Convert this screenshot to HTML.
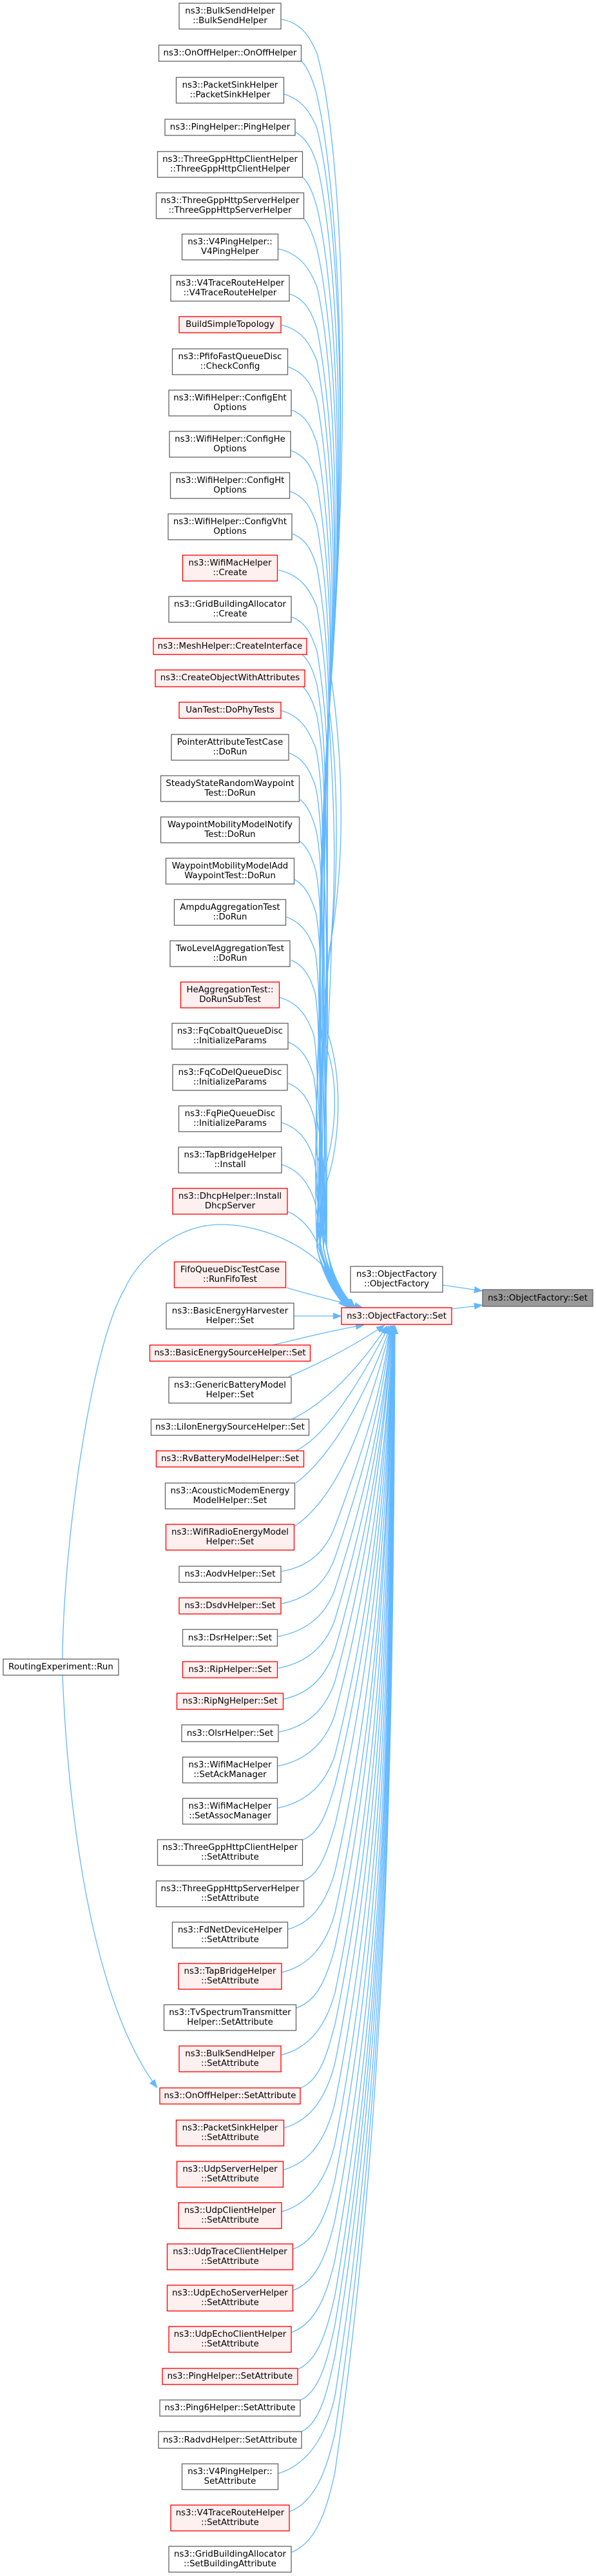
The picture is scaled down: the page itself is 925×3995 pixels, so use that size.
<!DOCTYPE html>
<html>
<head>
<meta charset="utf-8">
<title>ns3::ObjectFactory::Set</title>
<style>
html,body{margin:0;padding:0;background:#fff;}
svg{display:block;}
text{font-family:"DejaVu Sans","Liberation Sans",sans-serif;font-size:13.33px;fill:#000;text-anchor:middle;}
.n{fill:#fff;stroke:#666;stroke-width:1.33;}
.r{fill:#FFF0F0;stroke:#f00;stroke-width:1.33;}
.g{fill:#999;stroke:#666;stroke-width:1.33;}
.e path{fill:none;stroke:#63B8FF;stroke-width:1.33;marker-end:url(#a);}
</style>
</head>
<body>
<svg width="925" height="3995" viewBox="0 0 925 3995" xmlns="http://www.w3.org/2000/svg">
<defs>
<marker id="a" markerUnits="userSpaceOnUse" markerWidth="14" markerHeight="11" refX="13" refY="5" orient="auto">
<path d="M0,0 L13,5 L0,10 z" fill="#63B8FF" stroke="#63B8FF" stroke-width="0.5"/>
</marker>
</defs>
<rect width="925" height="3995" fill="#fff"/>
<g class="e">
<path d="M437,30 C470,36 482,60 492,83 C525,200 550,550 514,1050 C535,1200 535,1350 510,1480 C497,1600 499,1800 497,1935 C505,1975 519,2005 541,2027"/>
<path d="M468,95 C478,105 484,122 490,140 C520,260 547,600 512,1080 C504,1250 510,1450 508,1600 C535,1680 525,1780 508,1830 C504,1860 502,1900 502,1935 C510,1975 522,2005 544,2027"/>
<path d="M441,146 C470,155 482,175 492,199 C522,320 545,650 511,1100 C525,1200 525,1350 515,1450 C511,1600 497,1800 507,1935 C515,1975 525,2005 547,2027"/>
<path d="M459,205 C475,215 484,230 492,255 C520,370 542,690 510,1100 C518,1250 524,1350 512,1480 C494,1600 508,1800 492,1935 C500,1975 528,2005 550,2027"/>
<path d="M470,275 C480,285 486,300 492,322 C518,430 540,730 509,1120 C501,1300 495,1450 505,1620 C528,1680 520,1760 505,1810 C500,1850 497,1900 497,1935 C505,1975 517,2005 539,2027"/>
<path d="M472,339 C480,349 486,365 492,386 C516,490 538,770 509,1120 C508,1400 506,1700 502,1935 C510,1975 520,2005 542,2027"/>
<path d="M432,386 C468,394 482,420 492,445 C514,540 534,800 508,1140 C491,1400 493,1700 507,1935 C515,1975 523,2005 545,2027"/>
<path d="M450,456 C475,465 484,485 492,510 C512,610 532,840 508,1140 C498,1400 504,1700 492,1935 C500,1975 526,2005 548,2027"/>
<path d="M437,504 C470,512 482,535 492,560 C510,660 530,880 507,1160 C505,1400 491,1700 497,1935 C505,1975 529,2005 551,2027"/>
<path d="M447,569 C474,578 484,598 492,622 C508,710 527,920 507,1160 C512,1400 502,1700 502,1935 C510,1975 518,2005 540,2027"/>
<path d="M453,636 C476,645 484,664 492,688 C507,770 524,960 506,1180 C495,1450 489,1700 507,1935 C515,1975 521,2005 543,2027"/>
<path d="M452,699 C476,708 484,726 492,750 C506,830 522,1000 506,1180 C502,1450 500,1700 492,1935 C500,1975 524,2005 546,2027"/>
<path d="M450,762 C475,771 484,791 492,815 C505,890 520,1040 505,1200 C509,1450 511,1700 497,1935 C505,1975 527,2005 549,2027"/>
<path d="M454,828 C477,837 484,856 492,880 C504,950 518,1080 505,1220 C492,1450 498,1700 502,1935 C510,1975 516,2005 538,2027"/>
<path d="M432,884 C468,892 482,916 492,942 C503,1010 516,1120 504,1240 C499,1450 509,1700 507,1935 C515,1975 519,2005 541,2027"/>
<path d="M453,957 C476,966 484,986 492,1010 C502,1070 514,1170 503,1260 C506,1500 496,1700 492,1935 C500,1975 522,2005 544,2027"/>
<path d="M469,1015 C480,1025 486,1040 492,1062 C500,1110 510,1200 500,1300 C513,1500 507,1750 497,1935 C505,1975 525,2005 547,2027"/>
<path d="M469,1064 C480,1074 486,1090 492,1110 C499,1150 508,1240 500,1340 C496,1550 494,1750 502,1935 C510,1975 528,2005 550,2027"/>
<path d="M436,1102 C468,1110 480,1135 490,1160 C497,1190 503,1260 499,1360 C503,1550 505,1750 507,1935 C515,1975 517,2005 539,2027"/>
<path d="M449,1168 C473,1177 482,1197 490,1221 C496,1250 502,1320 498,1400 C510,1600 492,1800 492,1935 C500,1975 520,2005 542,2027"/>
<path d="M466,1240 C478,1250 484,1265 490,1285 C496,1310 502,1380 498,1460 C493,1650 503,1800 497,1935 C505,1975 523,2005 545,2027"/>
<path d="M465,1304 C477,1314 484,1329 490,1350 C495,1375 500,1430 497,1500 C500,1650 490,1800 502,1935 C510,1975 526,2005 548,2027"/>
<path d="M457,1364 C474,1373 483,1392 490,1415 C495,1440 499,1490 496,1560 C507,1700 501,1850 507,1935 C515,1975 529,2005 551,2027"/>
<path d="M444,1422 C470,1431 481,1452 489,1475 C493,1500 497,1550 494,1620 C490,1720 488,1850 492,1935 C500,1975 518,2005 540,2027"/>
<path d="M452,1489 C473,1498 482,1517 489,1540 C493,1565 496,1610 493,1680 C497,1760 499,1870 497,1935 C505,1975 521,2005 543,2027"/>
<path d="M434,1547 C466,1556 478,1580 487,1605 C491,1630 494,1670 491,1730 C504,1800 510,1880 502,1935 C510,1975 524,2005 546,2027"/>
<path d="M447,1616 C470,1625 480,1646 487,1670 C491,1695 494,1735 491,1790 C511,1840 497,1900 507,1935 C515,1975 527,2005 549,2027"/>
<path d="M447,1680 C471,1689 481,1710 488,1735 C492,1760 494,1800 491,1850 C494,1880 508,1910 492,1935 C500,1975 516,2005 538,2027"/>
<path d="M437,1741 C467,1750 480,1774 488,1800 C492,1825 495,1860 492,1900 C495,1920 498,1930 500,1940 C508,1975 522,2005 544,2027"/>
<path d="M437,1806 C467,1815 481,1840 489,1865 C493,1885 496,1905 496,1935 C504,1975 525,2005 547,2027"/>
<path d="M447,1879 C467,1888 482,1905 491,1925 C497,1945 510,1985 541,2027"/>
<path d="M445,1997 C480,2008 520,2017 563,2028"/>
<path d="M97,2573 C98,2400 140,2090 193,2000 C215,1950 275,1899 342,1899 C400,1899 460,1925 495,1957 C515,1975 528,2005 540,2027"/>
<path d="M97,2598 C105,2800 140,3100 244,3238"/>
<path d="M456,2041 L530,2041"/>
<path d="M423,2086 C470,2075 520,2062 565,2055"/>
<path d="M448,2135 C490,2117 545,2090 597,2055"/>
<path d="M453,2201 C500,2178 550,2132 601,2056"/>
<path d="M459,2250 C505,2228 555,2150 604,2056"/>
<path d="M459,2300 C500,2270 560,2190 606,2056"/>
<path d="M457,2367 C505,2335 555,2260 607,2056"/>
<path d="M437,2437 C483,2429 507,2402 520,2367 C559,2263 593,2160 606,2056"/>
<path d="M437,2487 C483,2478 507,2451 520,2415 C561,2295 594,2176 607,2056"/>
<path d="M431,2538 C480,2529 507,2501 520,2464 C564,2328 596,2192 608,2056"/>
<path d="M432,2587 C480,2578 507,2549 520,2511 C566,2359 596,2208 608,2056"/>
<path d="M440,2635 C484,2626 507,2596 520,2558 C568,2391 597,2225 609,2056"/>
<path d="M433,2686 C481,2677 507,2646 520,2607 C570,2423 597,2240 609,2056"/>
<path d="M431,2739 C480,2729 507,2698 520,2658 C573,2457 599,2257 610,2056"/>
<path d="M431,2804 C480,2794 507,2762 520,2721 C575,2499 599,2278 610,2056"/>
<path d="M470,2853 C497,2843 507,2810 520,2768 C578,2531 600,2293 611,2056"/>
<path d="M470,2917 C497,2907 507,2873 520,2830 C580,2572 601,2314 611,2056"/>
<path d="M447,2992 C487,2981 507,2947 520,2902 C583,2620 601,2338 611,2056"/>
<path d="M437,3059 C483,3048 507,3013 520,2966 C586,2663 602,2359 611,2056"/>
<path d="M460,3114 C493,3103 507,3067 520,3020 C588,2699 602,2377 611,2056"/>
<path d="M437,3187 C483,3175 507,3138 520,3090 C591,2745 603,2401 611,2056"/>
<path d="M467,3238 C496,3226 507,3188 520,3139 C594,2778 604,2417 612,2056"/>
<path d="M441,3300 C484,3288 507,3250 520,3199 C596,2818 605,2437 612,2056"/>
<path d="M440,3365 C484,3353 507,3313 520,3261 C599,2859 605,2458 612,2056"/>
<path d="M437,3430 C483,3417 507,3377 520,3324 C601,2901 606,2479 612,2056"/>
<path d="M455,3488 C491,3475 507,3434 520,3380 C604,2939 606,2497 612,2056"/>
<path d="M455,3552 C491,3539 507,3497 520,3442 C606,2980 606,2518 612,2056"/>
<path d="M453,3617 C490,3603 507,3560 520,3504 C606,3021 607,2539 612,2056"/>
<path d="M463,3674 C494,3660 507,3616 520,3559 C606,3058 607,2557 612,2056"/>
<path d="M467,3722 C496,3708 507,3664 520,3605 C606,3089 608,2572 612,2056"/>
<path d="M468,3771 C497,3757 507,3712 520,3653 C606,3121 609,2588 613,2056"/>
<path d="M432,3836 C480,3821 507,3775 520,3715 C606,3162 609,2609 613,2056"/>
<path d="M450,3895 C488,3880 507,3833 520,3772 C606,3200 610,2628 613,2056"/>
<path d="M453,3958 C490,3943 507,3895 520,3833 C606,3241 610,2648 613,2056"/>
<path d="M687,1993 L749,2002"/>
<path d="M701,2030 L749,2024"/>
</g>

<rect class="n" x="278" y="5" width="158" height="40"/><text x="357" y="21">ns3::BulkSendHelper</text><text x="357" y="36">::BulkSendHelper</text>
<rect class="n" x="246.500" y="70" width="221" height="25"/><text x="357" y="86">ns3::OnOffHelper::OnOffHelper</text>
<rect class="n" x="273.500" y="120" width="167" height="40"/><text x="357" y="136">ns3::PacketSinkHelper</text><text x="357" y="151">::PacketSinkHelper</text>
<rect class="n" x="256" y="185" width="202" height="25"/><text x="357" y="201">ns3::PingHelper::PingHelper</text>
<rect class="n" x="244.500" y="235" width="225" height="40"/><text x="357" y="251">ns3::ThreeGppHttpClientHelper</text><text x="357" y="266">::ThreeGppHttpClientHelper</text>
<rect class="n" x="242.500" y="299" width="229" height="40"/><text x="357" y="315">ns3::ThreeGppHttpServerHelper</text><text x="357" y="330">::ThreeGppHttpServerHelper</text>
<rect class="n" x="282.500" y="363" width="149" height="40"/><text x="357" y="379">ns3::V4PingHelper::</text><text x="357" y="394">V4PingHelper</text>
<rect class="n" x="265" y="427" width="184" height="40"/><text x="357" y="443">ns3::V4TraceRouteHelper</text><text x="357" y="458">::V4TraceRouteHelper</text>
<rect class="r" x="278" y="491" width="158" height="25"/><text x="357" y="507">BuildSimpleTopology</text>
<rect class="n" x="267.500" y="541" width="179" height="40"/><text x="357" y="557">ns3::PfifoFastQueueDisc</text><text x="357" y="572">::CheckConfig</text>
<rect class="n" x="262" y="605" width="190" height="40"/><text x="357" y="621">ns3::WifiHelper::ConfigEht</text><text x="357" y="636">Options</text>
<rect class="n" x="263" y="669" width="188" height="40"/><text x="357" y="685">ns3::WifiHelper::ConfigHe</text><text x="357" y="700">Options</text>
<rect class="n" x="264.500" y="733" width="185" height="40"/><text x="357" y="749">ns3::WifiHelper::ConfigHt</text><text x="357" y="764">Options</text>
<rect class="n" x="261" y="797" width="192" height="40"/><text x="357" y="813">ns3::WifiHelper::ConfigVht</text><text x="357" y="828">Options</text>
<rect class="r" x="283.500" y="861" width="147" height="40"/><text x="357" y="877">ns3::WifiMacHelper</text><text x="357" y="892">::Create</text>
<rect class="n" x="262" y="925" width="190" height="40"/><text x="357" y="941">ns3::GridBuildingAllocator</text><text x="357" y="956">::Create</text>
<rect class="r" x="238" y="990" width="238" height="25"/><text x="357" y="1006">ns3::MeshHelper::CreateInterface</text>
<rect class="r" x="241" y="1039" width="232" height="26"/><text x="357" y="1055">ns3::CreateObjectWithAttributes</text>
<rect class="r" x="278" y="1089" width="158" height="25"/><text x="357" y="1105">UanTest::DoPhyTests</text>
<rect class="n" x="266" y="1139" width="182" height="40"/><text x="357" y="1155">PointerAttributeTestCase</text><text x="357" y="1170">::DoRun</text>
<rect class="n" x="249.500" y="1203" width="215" height="40"/><text x="357" y="1219">SteadyStateRandomWaypoint</text><text x="357" y="1234">Test::DoRun</text>
<rect class="n" x="249.500" y="1267" width="215" height="40"/><text x="357" y="1283">WaypointMobilityModelNotify</text><text x="357" y="1298">Test::DoRun</text>
<rect class="n" x="257.500" y="1331" width="199" height="40"/><text x="357" y="1347">WaypointMobilityModelAdd</text><text x="357" y="1362">WaypointTest::DoRun</text>
<rect class="n" x="270.500" y="1395" width="173" height="40"/><text x="357" y="1411">AmpduAggregationTest</text><text x="357" y="1426">::DoRun</text>
<rect class="n" x="264" y="1459" width="186" height="40"/><text x="357" y="1475">TwoLevelAggregationTest</text><text x="357" y="1490">::DoRun</text>
<rect class="r" x="280.500" y="1523" width="153" height="40"/><text x="357" y="1539">HeAggregationTest::</text><text x="357" y="1554">DoRunSubTest</text>
<rect class="n" x="267" y="1587" width="180" height="40"/><text x="357" y="1603">ns3::FqCobaltQueueDisc</text><text x="357" y="1618">::InitializeParams</text>
<rect class="n" x="268" y="1651" width="178" height="40"/><text x="357" y="1667">ns3::FqCoDelQueueDisc</text><text x="357" y="1682">::InitializeParams</text>
<rect class="n" x="277.500" y="1715" width="159" height="40"/><text x="357" y="1731">ns3::FqPieQueueDisc</text><text x="357" y="1746">::InitializeParams</text>
<rect class="n" x="277" y="1779" width="160" height="40"/><text x="357" y="1795">ns3::TapBridgeHelper</text><text x="357" y="1810">::Install</text>
<rect class="r" x="268" y="1843" width="178" height="40"/><text x="357" y="1859">ns3::DhcpHelper::Install</text><text x="357" y="1874">DhcpServer</text>
<rect class="r" x="270.500" y="1957" width="173" height="40"/><text x="357" y="1973">FifoQueueDiscTestCase</text><text x="357" y="1988">::RunFifoTest</text>
<rect class="n" x="544" y="1964" width="143" height="40"/><text x="615.500" y="1980">ns3::ObjectFactory</text><text x="615.500" y="1995">::ObjectFactory</text>
<rect class="g" x="749" y="2000" width="171" height="26"/><text x="834.500" y="2017">ns3::ObjectFactory::Set</text>
<rect class="r" x="530" y="2028" width="171" height="26"/><text x="615.500" y="2045">ns3::ObjectFactory::Set</text>
<rect class="n" x="258" y="2021" width="198" height="40"/><text x="357" y="2037">ns3::BasicEnergyHarvester</text><text x="357" y="2052">Helper::Set</text>
<rect class="r" x="232.500" y="2086" width="249" height="25"/><text x="357" y="2102">ns3::BasicEnergySourceHelper::Set</text>
<rect class="n" x="262" y="2136" width="190" height="40"/><text x="357" y="2152">ns3::GenericBatteryModel</text><text x="357" y="2167">Helper::Set</text>
<rect class="n" x="234.500" y="2201" width="245" height="25"/><text x="357" y="2217">ns3::LiIonEnergySourceHelper::Set</text>
<rect class="r" x="242.500" y="2250" width="229" height="25"/><text x="357" y="2266">ns3::RvBatteryModelHelper::Set</text>
<rect class="n" x="256.500" y="2300" width="201" height="40"/><text x="357" y="2316">ns3::AcousticModemEnergy</text><text x="357" y="2331">ModelHelper::Set</text>
<rect class="r" x="257.500" y="2364" width="199" height="40"/><text x="357" y="2380">ns3::WifiRadioEnergyModel</text><text x="357" y="2395">Helper::Set</text>
<rect class="n" x="278" y="2429" width="158" height="25"/><text x="357" y="2445">ns3::AodvHelper::Set</text>
<rect class="r" x="278" y="2478" width="158" height="25"/><text x="357" y="2494">ns3::DsdvHelper::Set</text>
<rect class="n" x="283.500" y="2527" width="147" height="26"/><text x="357" y="2544">ns3::DsrHelper::Set</text>
<rect class="r" x="283.500" y="2577" width="147" height="25"/><text x="357" y="2593">ns3::RipHelper::Set</text>
<rect class="r" x="274.500" y="2626" width="165" height="25"/><text x="357" y="2642">ns3::RipNgHelper::Set</text>
<rect class="n" x="282" y="2675" width="150" height="26"/><text x="357" y="2692">ns3::OlsrHelper::Set</text>
<rect class="n" x="283.500" y="2725" width="147" height="40"/><text x="357" y="2741">ns3::WifiMacHelper</text><text x="357" y="2756">::SetAckManager</text>
<rect class="n" x="283.500" y="2789" width="147" height="40"/><text x="357" y="2805">ns3::WifiMacHelper</text><text x="357" y="2820">::SetAssocManager</text>
<rect class="n" x="244.500" y="2853" width="225" height="40"/><text x="357" y="2869">ns3::ThreeGppHttpClientHelper</text><text x="357" y="2884">::SetAttribute</text>
<rect class="n" x="242.500" y="2917" width="229" height="40"/><text x="357" y="2933">ns3::ThreeGppHttpServerHelper</text><text x="357" y="2948">::SetAttribute</text>
<rect class="n" x="267.500" y="2981" width="179" height="40"/><text x="357" y="2997">ns3::FdNetDeviceHelper</text><text x="357" y="3012">::SetAttribute</text>
<rect class="n" x="5" y="2573" width="179" height="25"/><text x="94.500" y="2589">RoutingExperiment::Run</text>
<rect class="r" x="277" y="3045" width="160" height="40"/><text x="357" y="3061">ns3::TapBridgeHelper</text><text x="357" y="3076">::SetAttribute</text>
<rect class="n" x="254.500" y="3109" width="205" height="40"/><text x="357" y="3125">ns3::TvSpectrumTransmitter</text><text x="357" y="3140">Helper::SetAttribute</text>
<rect class="r" x="278" y="3173" width="158" height="40"/><text x="357" y="3189">ns3::BulkSendHelper</text><text x="357" y="3204">::SetAttribute</text>
<rect class="r" x="248" y="3238" width="218" height="25"/><text x="357" y="3254">ns3::OnOffHelper::SetAttribute</text>
<rect class="r" x="273.500" y="3288" width="167" height="40"/><text x="357" y="3304">ns3::PacketSinkHelper</text><text x="357" y="3319">::SetAttribute</text>
<rect class="r" x="274.500" y="3352" width="165" height="40"/><text x="357" y="3368">ns3::UdpServerHelper</text><text x="357" y="3383">::SetAttribute</text>
<rect class="r" x="277" y="3416" width="160" height="40"/><text x="357" y="3432">ns3::UdpClientHelper</text><text x="357" y="3447">::SetAttribute</text>
<rect class="r" x="259.500" y="3480" width="195" height="40"/><text x="357" y="3496">ns3::UdpTraceClientHelper</text><text x="357" y="3511">::SetAttribute</text>
<rect class="r" x="259.500" y="3544" width="195" height="40"/><text x="357" y="3560">ns3::UdpEchoServerHelper</text><text x="357" y="3575">::SetAttribute</text>
<rect class="r" x="262" y="3608" width="190" height="40"/><text x="357" y="3624">ns3::UdpEchoClientHelper</text><text x="357" y="3639">::SetAttribute</text>
<rect class="r" x="252" y="3673" width="210" height="25"/><text x="357" y="3689">ns3::PingHelper::SetAttribute</text>
<rect class="n" x="248" y="3722" width="218" height="25"/><text x="357" y="3738">ns3::Ping6Helper::SetAttribute</text>
<rect class="n" x="246" y="3771" width="222" height="26"/><text x="357" y="3788">ns3::RadvdHelper::SetAttribute</text>
<rect class="n" x="282.500" y="3821" width="149" height="40"/><text x="357" y="3837">ns3::V4PingHelper::</text><text x="357" y="3852">SetAttribute</text>
<rect class="r" x="265" y="3885" width="184" height="40"/><text x="357" y="3901">ns3::V4TraceRouteHelper</text><text x="357" y="3916">::SetAttribute</text>
<rect class="n" x="262" y="3949" width="190" height="40"/><text x="357" y="3965">ns3::GridBuildingAllocator</text><text x="357" y="3980">::SetBuildingAttribute</text>
</svg>
</body>
</html>
